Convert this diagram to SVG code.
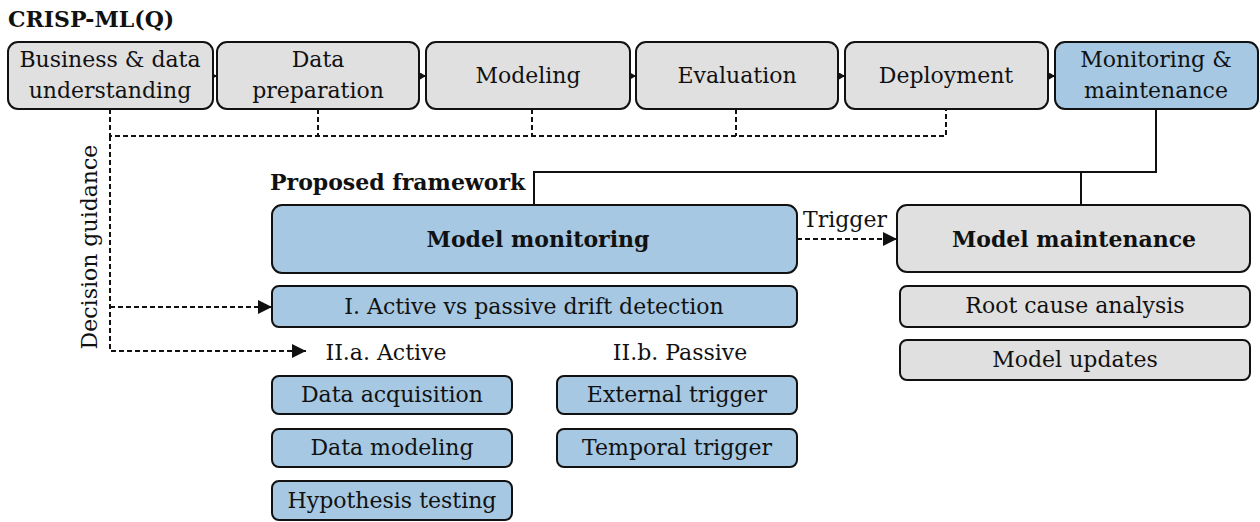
<svg xmlns="http://www.w3.org/2000/svg" width="1260" height="522" viewBox="0 0 1260 522">
<style>
text{font-family:"DejaVu Serif","Liberation Serif",serif;font-size:22px;fill:#111;text-anchor:middle}
.b{font-weight:bold}
.l{text-anchor:start}
.g{fill:#e0e0e0;stroke:#111;stroke-width:2}
.bl{fill:#a6c8e2;stroke:#111;stroke-width:2}
.d{fill:none;stroke:#111;stroke-width:2;stroke-dasharray:5 3}
.s{fill:none;stroke:#111;stroke-width:2}
</style>
<defs>
<marker id="ah" markerWidth="14" markerHeight="14" refX="14" refY="7" orient="auto" markerUnits="userSpaceOnUse"><path d="M0,0 L14,7 L0,14 Z" fill="#111"/></marker>
<marker id="sm" markerWidth="6" markerHeight="7" refX="6" refY="3.5" orient="auto" markerUnits="userSpaceOnUse"><path d="M0,0 L6,3.5 L0,7 Z" fill="#111"/></marker>
</defs>
<text class="b l" x="8" y="27">CRISP-ML(Q)</text>
<g id="connectors">
<path class="s" d="M213,76 L217,76" marker-end="url(#sm)"/>
<path class="s" d="M420,76 L426,76" marker-end="url(#sm)"/>
<path class="s" d="M630,76 L636,76" marker-end="url(#sm)"/>
<path class="s" d="M839,76 L845,76" marker-end="url(#sm)"/>
<path class="s" d="M1049,76 L1055,76" marker-end="url(#sm)"/>
<path class="d" d="M110,109 V136 H946 V109"/>
<path class="d" d="M318,109 V136"/>
<path class="d" d="M532,109 V136"/>
<path class="d" d="M736,109 V136"/>
<path class="d" d="M110,136 V351 H306" marker-end="url(#ah)"/>
<path class="d" d="M110,307 H272" marker-end="url(#ah)"/>
<path class="s" d="M1156,109 V172 H534 V205"/>
<path class="s" d="M1081,172 V205"/>
<path class="d" d="M797,239 H897" marker-end="url(#ah)"/>
<text x="845" y="227">Trigger</text>
<text transform="translate(97,247) rotate(-90)">Decision guidance</text>
</g>
<g id="n1"><rect class="g" x="8" y="42" width="205" height="67" rx="10"/><text x="110" y="67">Business &amp; data</text><text x="110" y="98">understanding</text></g>
<g id="n2"><rect class="g" x="217" y="42" width="202" height="67" rx="10"/><text x="318" y="67">Data</text><text x="318" y="98">preparation</text></g>
<g id="n3"><rect class="g" x="426" y="42" width="204" height="67" rx="10"/><text x="528" y="83">Modeling</text></g>
<g id="n4"><rect class="g" x="636" y="42" width="202" height="67" rx="10"/><text x="737" y="83">Evaluation</text></g>
<g id="n5"><rect class="g" x="845" y="42" width="203" height="67" rx="10"/><text x="946" y="83">Deployment</text></g>
<g id="n6"><rect class="bl" x="1055" y="42" width="203" height="67" rx="10"/><text x="1156" y="67">Monitoring &amp;</text><text x="1156" y="98">maintenance</text></g>
<text class="b l" x="270" y="190">Proposed framework</text>
<g id="mon"><rect class="bl" x="272" y="205" width="525" height="68" rx="10"/><text class="b" x="538" y="247">Model monitoring</text></g>
<g id="avp"><rect class="bl" x="272" y="286" width="525" height="41" rx="7"/><text x="534" y="314">I. Active vs passive drift detection</text></g>
<text x="386" y="360">II.a. Active</text>
<text x="680" y="360">II.b. Passive</text>
<g id="da"><rect class="bl" x="272" y="376" width="240" height="38" rx="7"/><text x="392" y="402">Data acquisition</text></g>
<g id="dm"><rect class="bl" x="272" y="429" width="240" height="38" rx="7"/><text x="392" y="455">Data modeling</text></g>
<g id="ht"><rect class="bl" x="272" y="481" width="240" height="39" rx="7"/><text x="392" y="508">Hypothesis testing</text></g>
<g id="et"><rect class="bl" x="557" y="376" width="240" height="38" rx="7"/><text x="677" y="402">External trigger</text></g>
<g id="tt"><rect class="bl" x="557" y="429" width="240" height="38" rx="7"/><text x="677" y="455">Temporal trigger</text></g>
<g id="mm"><rect class="g" x="897" y="205" width="353" height="67" rx="10"/><text class="b" x="1074" y="247">Model maintenance</text></g>
<g id="rc"><rect class="g" x="900" y="286" width="350" height="41" rx="7"/><text x="1075" y="313">Root cause analysis</text></g>
<g id="mu"><rect class="g" x="900" y="340" width="350" height="40" rx="7"/><text x="1075" y="367">Model updates</text></g>
</svg>
